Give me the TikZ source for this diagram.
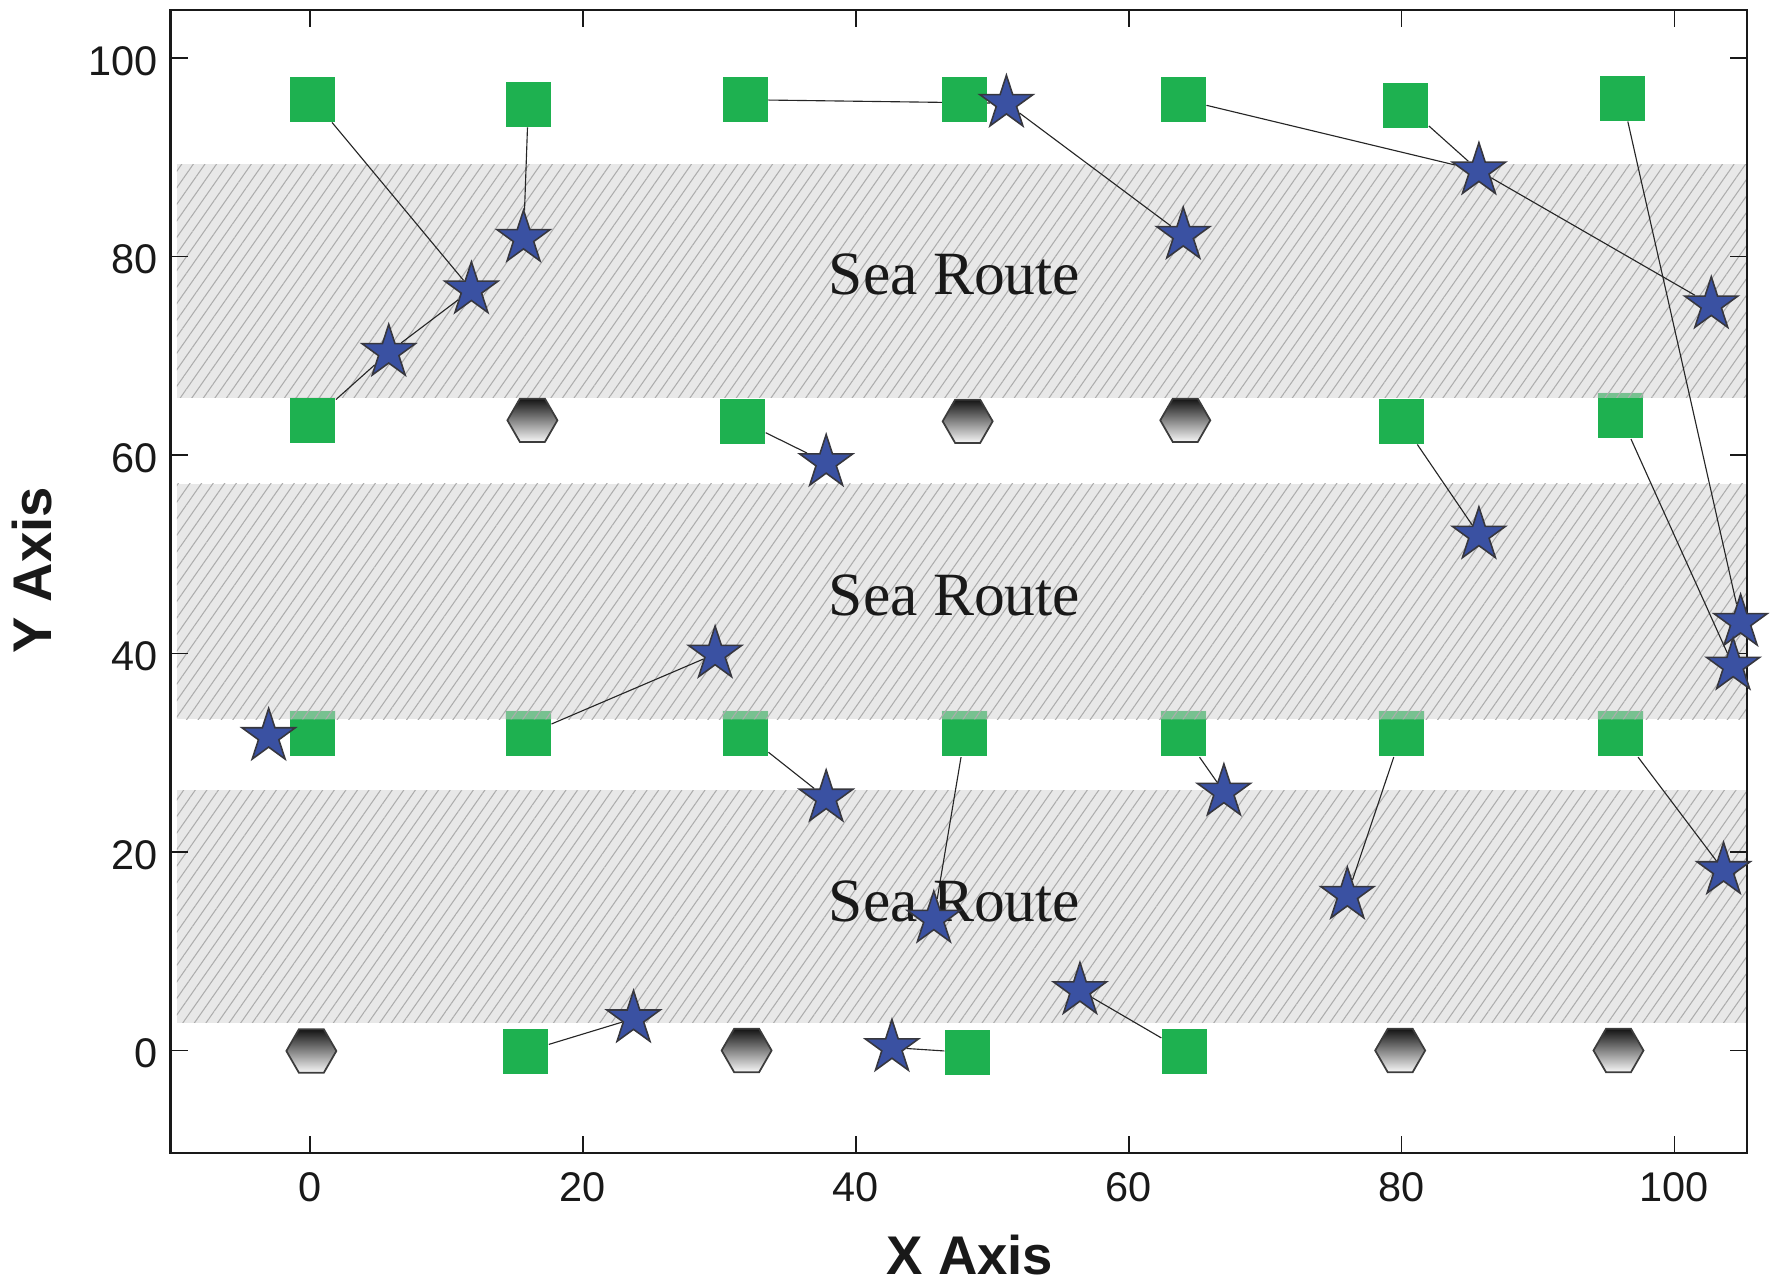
\documentclass[tikz,border=0pt]{standalone}
\usepackage{fontspec}
\setmainfont{Liberation Serif}
\newfontfamily\arialf{Liberation Sans}
\usetikzlibrary{shapes.geometric,patterns.meta}
\definecolor{sqgreen}{RGB}{30,177,80}
\definecolor{stblue}{RGB}{58,81,162}
\definecolor{stedge}{RGB}{55,55,62}
\definecolor{hexedge}{RGB}{60,60,60}
\definecolor{bandgray}{RGB}{232,232,232}
\pgfdeclarelayer{bandl}
\pgfdeclarelayer{linel}
\pgfsetlayers{bandl,linel,main}
\begin{document}
\begin{tikzpicture}[
  sqmark/.style={rectangle, minimum size=4.5mm, inner sep=0pt, fill=sqgreen},
  starmark/.style={star, star points=5, star point ratio=2.618, minimum size=5.6mm, inner sep=0pt, fill=stblue, draw=stedge, line width=0.45pt},
  hexmark/.style={regular polygon, regular polygon sides=6, minimum size=5mm, inner sep=0pt, draw=hexedge, line width=0.5pt, top color=black!92, bottom color=black!3},
  conn/.style={line width=0.32pt, black!85},
  ticklab/.style={font=\arialf\fontsize{11.8}{14}\selectfont, inner sep=0pt, text=black!90},
  axtitle/.style={font=\arialf\bfseries\fontsize{15.5}{18}\selectfont, inner sep=0pt, text=black!90},
  searoute/.style={font=\fontsize{17.5}{21}\selectfont, inner sep=0pt, anchor=base, text=black!90},
  bandbase/.style={fill=bandgray},
  bandhatch/.style={pattern={Lines[angle=55,distance=2.7pt,line width=0.3pt]}, pattern color=black!32},
]
\useasboundingbox (0,0) rectangle (17.77,12.84);
\begin{scope}[shift={(3.10,2.335)}, x=0.13645cm, y=0.09924cm]
% bands
\begin{pgfonlayer}{bandl}
\foreach \a/\b in {65.75/89.3, 33.37/57.1, 2.8/26.2}{
  \fill[bandbase] (-9.75,\a) rectangle (105.31,\b);
  \fill[bandhatch] (-9.75,\a) rectangle (105.31,\b);
}
\end{pgfonlayer}
% frame and ticks
\draw[line width=0.6pt, black!90] (-10.224,-10.33) rectangle (105.31,104.85);
\foreach \t in {0,20,...,100}{
  \draw[line width=0.5pt, black!90] (\t,-10.33) -- ++(0,1.71);
  \draw[line width=0.5pt, black!90] (\t,104.85) -- ++(0,-1.71);
  \draw[line width=0.5pt, black!90] (-10.224,\t) -- ++(1.25,0);
  \draw[line width=0.5pt, black!90] (105.31,\t) -- ++(-1.25,0);
  \node[ticklab, anchor=base] (xl\t) at (\t,-15.24) {\t};
  \node[ticklab, anchor=east] (yl\t) at (-11.14,\t-0.3) {\t};
}
\node[axtitle, anchor=base] (xtitle) at (48.37,-22.62) {X Axis};
\node[axtitle, rotate=90] (ytitle) at (-20.37,48.4) {Y Axis};
% squares
\node[sqmark] (qa0) at (0.2,95.85) {};
\node[sqmark] (qa1) at (16.0,95.35) {};
\node[sqmark] (qa2) at (31.9,95.8) {};
\node[sqmark] (qa3) at (48.0,95.8) {};
\node[sqmark] (qa4) at (64.0,95.8) {};
\node[sqmark] (qa5) at (80.3,95.25) {};
\node[sqmark] (qa6) at (96.2,95.95) {};
\node[sqmark] (qb0) at (0.2,63.5) {};
\node[sqmark] (qb2) at (31.7,63.4) {};
\node[sqmark] (qb5) at (80.0,63.4) {};
\node[sqmark] (qb6) at (96.05,63.95) {};
\node[sqmark] (qc0) at (0.2,31.9) {};
\node[sqmark] (qc1) at (16.0,31.9) {};
\node[sqmark] (qc2) at (31.9,31.9) {};
\node[sqmark] (qc3) at (48.0,31.9) {};
\node[sqmark] (qc4) at (64.0,31.9) {};
\node[sqmark] (qc5) at (80.0,31.9) {};
\node[sqmark] (qc6) at (96.05,31.9) {};
\node[sqmark] (qd1) at (15.8,-0.1) {};
\node[sqmark] (qd3) at (48.2,-0.2) {};
\node[sqmark] (qd4) at (64.1,-0.1) {};
% band overlay on squares
\begin{scope}
\clip (qb0.south west) rectangle (qb0.north east)
      (qb2.south west) rectangle (qb2.north east)
      (qb5.south west) rectangle (qb5.north east)
      (qb6.south west) rectangle (qb6.north east)
      (qc0.south west) rectangle (qc0.north east)
      (qc1.south west) rectangle (qc1.north east)
      (qc2.south west) rectangle (qc2.north east)
      (qc3.south west) rectangle (qc3.north east)
      (qc4.south west) rectangle (qc4.north east)
      (qc5.south west) rectangle (qc5.north east)
      (qc6.south west) rectangle (qc6.north east);
\fill[black!18, fill opacity=0.5] (-9.75,65.75) rectangle (105.31,89.3) (-9.75,33.37) rectangle (105.31,57.1);
\fill[bandhatch, fill opacity=0.6] (-9.75,65.75) rectangle (105.31,89.3) (-9.75,33.37) rectangle (105.31,57.1);
\end{scope}
% labels
\node[searoute] (t1) at (47.23,76.13) {Sea Route};
\node[searoute] (t2) at (47.23,43.88) {Sea Route};
\node[searoute] (t3) at (47.23,12.95) {Sea Route};
% hexagons
\node[hexmark] (hb1) at (16.3,63.5) {};
\node[hexmark] (hb3) at (48.2,63.4) {};
\node[hexmark] (hb4) at (64.15,63.5) {};
\node[hexmark] (hd0) at (0.1,-0.05) {};
\node[hexmark] (hd2) at (32.0,0) {};
\node[hexmark] (hd5) at (79.9,0) {};
\node[hexmark] (hd6) at (95.9,0) {};
% stars
\begin{scope}[every node/.append style={yshift=0.7pt}]
\node[starmark] (s1) at (-3.03,31.4) {};
\node[starmark] (s2) at (5.77,70.1) {};
\node[starmark] (s3) at (11.83,76.4) {};
\node[starmark] (s4) at (15.65,81.6) {};
\node[starmark] (s5) at (51.04,95.2) {};
\node[starmark] (s6) at (64.0,81.9) {};
\node[starmark] (s7) at (85.67,88.4) {};
\node[starmark] (s8) at (102.7,74.9) {};
\node[starmark] (s9) at (37.83,59.0) {};
\node[starmark] (s10) at (85.67,51.7) {};
\node[starmark] (s11) at (29.69,39.7) {};
\node[starmark] (s12) at (104.85,42.9) {};
\node[starmark] (s13) at (104.3,38.5) {};
\node[starmark] (s14) at (37.83,25.2) {};
\node[starmark] (s15) at (66.98,25.8) {};
\node[starmark] (s16) at (45.72,13.0) {};
\node[starmark] (s17) at (76.03,15.4) {};
\node[starmark] (s18) at (103.6,17.9) {};
\node[starmark] (s19) at (56.43,5.8) {};
\node[starmark] (s20) at (23.71,2.96) {};
\node[starmark] (s21) at (42.65,0.05) {};
\end{scope}
% connectors
\begin{pgfonlayer}{linel}
\draw[conn] (qa0) -- (s3);
\draw[conn] (qa1) -- (s4);
\draw[conn] (qa2) -- (s5);
\draw[conn] (s5) -- (s6);
\draw[conn] (qa4) -- (s7);
\draw[conn] (qa5) -- (s7);
\draw[conn] (s7) -- (s8);
\draw[conn] (qa6) -- (s12);
\draw[conn] (qb0) -- (s2);
\draw[conn] (s2) -- (s3);
\draw[conn] (qb2) -- (s9);
\draw[conn] (qb5) -- (s10);
\draw[conn] (qb6) -- (s13);
\draw[conn] (qc1) -- (s11);
\draw[conn] (qc2) -- (s14);
\draw[conn] (qc3) -- (s16);
\draw[conn] (qc4) -- (s15);
\draw[conn] (qc5) -- (s17);
\draw[conn] (qc6) -- (s18);
\draw[conn] (qd1) -- (s20);
\draw[conn] (qd3) -- (s21);
\draw[conn] (qd4) -- (s19);
\end{pgfonlayer}
\end{scope}
\end{tikzpicture}
\end{document}
